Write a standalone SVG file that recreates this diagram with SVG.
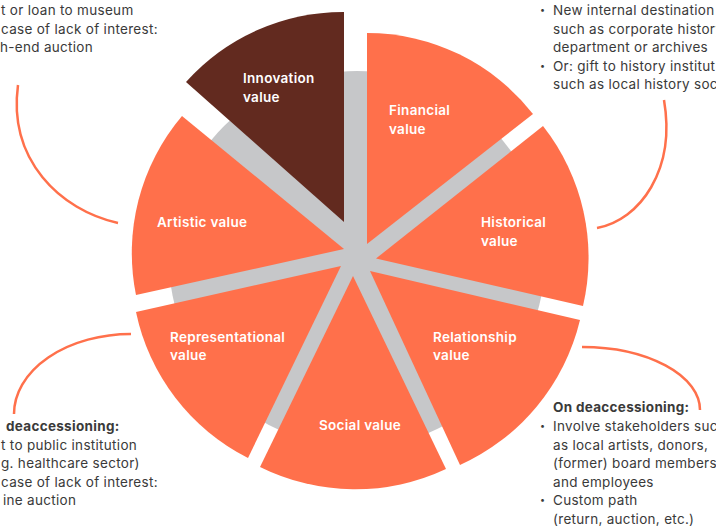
<svg xmlns="http://www.w3.org/2000/svg" width="716" height="528" viewBox="0 0 716 528">
<style>
.sec{fill:#FF704B}
.inn{fill:#622A1F}
.lbl{font-family:Inter,"Liberation Sans",sans-serif;font-weight:600;font-size:13.5px;fill:#FFFFFF;letter-spacing:0.3px}
.ann{font-family:Inter,"Liberation Sans",sans-serif;font-weight:400;font-size:13.5px;fill:#3A3A3A;letter-spacing:0.3px}
.bul{font-family:Inter,"Liberation Sans",sans-serif;font-size:9px;fill:#3A3A3A}
.b{font-weight:700}
.con{fill:none;stroke:#FF704B;stroke-width:2.5;stroke-linecap:butt}
</style>
<rect width="716" height="528" fill="#FFFFFF"/>
<circle id="hub" cx="357" cy="259" r="188" fill="#C6C7C9"/>
<g id="innovation">
<path class="inn" d="M344 222 L186 82 A211 211 0 0 1 344 12 Z"/>
<text class="lbl" x="243" y="83">Innovation</text>
<text class="lbl" x="243" y="102">value</text>
</g>
<g id="financial">
<path class="sec" d="M367 244 L367 33 A211 211 0 0 1 533 114 Z"/>
<text class="lbl" x="389" y="115">Financial</text>
<text class="lbl" x="389" y="134">value</text>
</g>
<g id="historical">
<path class="sec" d="M376 258.5 L543 126 A213 213 0 0 1 583 306 Z"/>
<text class="lbl" x="481" y="227">Historical</text>
<text class="lbl" x="481" y="246">value</text>
</g>
<g id="relationship">
<path class="sec" d="M370 271 L580 320 A214 214 0 0 1 460 465 Z"/>
<text class="lbl" x="433" y="342">Relationship</text>
<text class="lbl" x="433" y="360">value</text>
</g>
<g id="social">
<path class="sec" d="M353 276 L446 469 A214 214 0 0 1 260 467 Z"/>
<text class="lbl" x="319" y="430">Social value</text>
</g>
<g id="representational">
<path class="sec" d="M341 266 L248 458 A212 212 0 0 1 136 312 Z"/>
<text class="lbl" x="170" y="342">Representational</text>
<text class="lbl" x="170" y="360">value</text>
</g>
<g id="artistic">
<path class="sec" d="M344 249 L136 295 A212 212 0 0 1 182 116 Z"/>
<text class="lbl" x="157" y="227">Artistic value</text>
</g>
<g id="connectors">
<path class="con" d="M18 85 C 8 160, 60 210, 118 223"/>
<path class="con" d="M664 100 C 676 170, 640 220, 597 228"/>
<path class="con" d="M131 334 A117 80 0 0 0 14 414"/>
<path class="con" d="M582 347 A118 63 0 0 1 700 410"/>
</g>
<g id="note-top-left">
<text class="ann" x="1" y="15">t or loan to museum</text>
<text class="ann" x="1" y="34">case of lack of interest:</text>
<text class="ann" x="0" y="52">h-end auction</text>
</g>
<g id="note-top-right">
<text class="bul" x="540" y="13">•</text>
<text class="ann" x="553" y="15">New internal destination</text>
<text class="ann" x="553" y="33.5">such as corporate history</text>
<text class="ann" x="553" y="52">department or archives</text>
<text class="bul" x="540" y="68.5">•</text>
<text class="ann" x="553" y="70.5">Or: gift to history institut</text>
<text class="ann" x="553" y="89">such as local history soci</text>
</g>
<g id="note-bottom-left">
<text class="ann b" x="6" y="431">deaccessioning:</text>
<text class="ann" x="1" y="449.5">t to public institution</text>
<text class="ann" x="1" y="468">g. healthcare sector)</text>
<text class="ann" x="1" y="486.5">case of lack of interest:</text>
<text class="ann" x="3" y="505">ine auction</text>
</g>
<g id="note-bottom-right">
<text class="ann b" x="553" y="412">On deaccessioning:</text>
<text class="bul" x="540" y="429">•</text>
<text class="ann" x="553" y="431">Involve stakeholders such</text>
<text class="ann" x="553" y="449.5">as local artists, donors,</text>
<text class="ann" x="553" y="468">(former) board members</text>
<text class="ann" x="553" y="486.5">and employees</text>
<text class="bul" x="540" y="503">•</text>
<text class="ann" x="553" y="505">Custom path</text>
<text class="ann" x="553" y="523.5">(return, auction, etc.)</text>
</g>
</svg>
